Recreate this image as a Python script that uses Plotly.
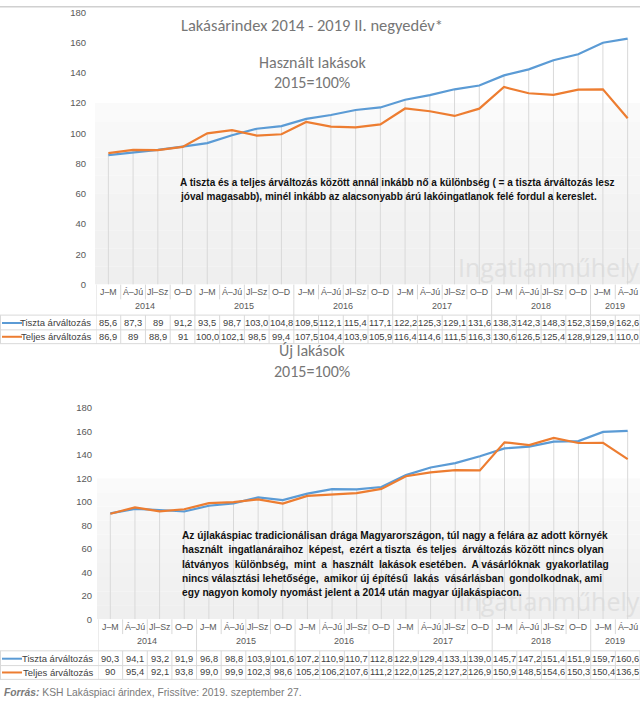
import plotly.graph_objects as go

# ---------------- data ----------------
quarters = ["J–M", "Á–Jú", "Jl–Sz", "O–D"] * 5 + ["J–M", "Á–Jú"]
years = ["2014", "2015", "2016", "2017", "2018", "2019"]
quarters_per_year = [4, 4, 4, 4, 4, 2]

series_names = ["Tiszta árváltozás", "Teljes árváltozás"]

used_tiszta = ["85,6", "87,3", "89", "91,2", "93,5", "98,7", "103,0", "104,8", "109,5", "112,1", "115,4",
               "117,1", "122,2", "125,3", "129,1", "131,6", "138,3", "142,3", "148,3", "152,3", "159,9", "162,6"]
used_teljes = ["86,9", "89", "88,9", "91", "100,0", "102,1", "98,5", "99,4", "107,5", "104,4", "103,9",
               "105,9", "116,4", "114,6", "111,5", "116,3", "130,6", "126,5", "125,4", "128,9", "129,1", "110,0"]
new_tiszta = ["90,3", "94,1", "93,2", "91,9", "96,8", "98,8", "103,9", "101,6", "107,2", "110,9", "110,7",
              "112,8", "122,9", "129,4", "133,1", "139,0", "145,7", "147,2", "151,4", "151,9", "159,7", "160,6"]
new_teljes = ["90", "95,4", "92,1", "93,8", "99,0", "99,9", "102,3", "98,6", "105,2", "106,2", "107,6",
              "111,2", "122,0", "125,2", "127,2", "126,9", "150,9", "148,5", "154,6", "150,3", "150,4", "136,5"]

y_ticks = [0, 20, 40, 60, 80, 100, 120, 140, 160, 180]

main_title = "Lakásárindex 2014 - 2019 II. negyedév*"
panel_titles = [["Használt lakások", "2015=100%"], ["Új lakások", "2015=100%"]]
notes = [
    ["A tiszta és a teljes árváltozás között annál inkább nő a különbség ( = a tiszta árváltozás lesz",
     "jóval magasabb), minél inkább az alacsonyabb árú lakóingatlanok felé fordul a kereslet."],
    ["Az újlakáspiac tradicionálisan drága Magyarországon, túl nagy a felára az adott környék",
     "használt  ingatlanáraihoz  képest,  ezért a tiszta  és teljes  árváltozás között nincs olyan",
     "látványos  különbség,  mint  a  használt  lakások esetében.  A vásárlóknak  gyakorlatilag",
     "nincs választási lehetősége,  amikor új építésű  lakás  vásárlásban  gondolkodnak, ami",
     "egy nagyon komoly nyomást jelent a 2014 után magyar újlakáspiacon."],
]
watermark = "Ingatlanműhely"
source_bold = "Forrás:"
source_rest = " KSH Lakáspiaci árindex, Frissítve: 2019. szeptember 27."

# ---------------- style ----------------
W, H = 640, 708
COLORS = ["#5B9BD5", "#ED7D31"]
GRID = "#d9d9d9"
TXT = "#595959"
SANS = "Liberation Sans, Arial, sans-serif"
TITLEF = "Carlito, Lato, Open Sans, sans-serif"


def px(x):
    return x / W


def py(y):
    return 1 - y / H


def num(lst):
    return [float(s.replace(",", ".")) for s in lst]


fig = go.Figure()
shapes = []
annotations = []


def ann(**kw):
    kw.setdefault("showarrow", False)
    kw.setdefault("yanchor", "middle")
    kw.setdefault("xanchor", "center")
    annotations.append(kw)


panels = [
    dict(xa="x", ya="y", left=96, zero=283, top=6.4, label_std=9,
         cat=290.5, year=305, r1=322, r2=336, tbl_top=314, tbl_mid=329, tbl_bot=343,
         title_y=[57, 78], note_x=178, note_y=[179, 193], wm_y=9, note_size=10,
         data=[used_tiszta, used_teljes]),
    dict(xa="x2", ya="y2", left=98, zero=623, top=408.5, label_std=5,
         cat=631, year=645, r1=663, r2=677, tbl_top=655, tbl_mid=670, tbl_bot=684,
         title_y=[350, 371], note_x=180, note_y=[538, 552.5, 567, 581.5, 596], wm_y=12, note_size=10.2,
         data=[new_tiszta, new_teljes]),
]

n = len(quarters)
xs = list(range(n))

# thin border at the very top of the picture
shapes.append(dict(type="line", xref="paper", yref="paper", x0=0, x1=1, y0=py(0.8), y1=py(0.8),
                   line=dict(color="#d0d0d0", width=1.5)))

for k, p in enumerate(panels):
    xa, ya = p["xa"], p["ya"]
    vals = [num(d) for d in p["data"]]

    # gradient-like background band (0..120)
    steps = 10
    for s in range(steps):
        lo = 120 * s / steps
        hi = 120 * (s + 1) / steps
        c = int(239 + (250 - 239) * (s / (steps - 1)))
        shapes.append(dict(type="rect", xref="paper", yref=ya, x0=px(p["left"] - 1), x1=1,
                           y0=lo, y1=hi, fillcolor=f"rgb({c},{c},{c})", line=dict(width=0),
                           layer="below"))

    # watermark (clipped by plot area)
    fig.add_trace(go.Scatter(x=[17.8], y=[p["wm_y"]], mode="text", text=[watermark],
                             textfont=dict(size=25, color="#e0e0e0", family="Open Sans, sans-serif"),
                             cliponaxis=True, hoverinfo="skip", showlegend=False,
                             xaxis=xa, yaxis=ya))

    # drop lines
    dx, dy = [], []
    for i in xs:
        dx += [i, i, None]
        dy += [0, max(vals[0][i], vals[1][i]), None]
    fig.add_trace(go.Scatter(x=dx, y=dy, mode="lines", line=dict(color=GRID, width=1),
                             hoverinfo="skip", showlegend=False, xaxis=xa, yaxis=ya))

    # series lines
    for j in range(2):
        fig.add_trace(go.Scatter(x=xs, y=vals[j], mode="lines", name=series_names[j],
                                 line=dict(color=COLORS[j], width=2.2), showlegend=False,
                                 xaxis=xa, yaxis=ya))

    # axes
    xkey = "xaxis" if xa == "x" else "xaxis2"
    ykey = "yaxis" if ya == "y" else "yaxis2"
    fig.layout[xkey] = dict(domain=[px(p["left"]), 1], range=[-0.5, n - 0.5], visible=False,
                            anchor=ya, fixedrange=True)
    fig.layout[ykey] = dict(domain=[py(p["zero"]), py(p["top"])], range=[0, 180], tickvals=y_ticks,
                            showgrid=False, zeroline=False, showline=False, ticks="",
                            ticklabelstandoff=p["label_std"], anchor=xa, fixedrange=True,
                            tickfont=dict(family=SANS, size=9.5, color=TXT))

    # ---- data table ----
    for i, q in enumerate(quarters):
        ann(xref=xa, yref="paper", x=i, y=py(p["cat"]), text=q,
            font=dict(family=SANS, size=8.8, color=TXT))
        shapes.append(dict(type="line", xref=xa, yref="paper", x0=i - 0.5, x1=i - 0.5,
                           y0=py(p["zero"]), y1=py(p["zero"] + 15), line=dict(color=GRID, width=1)))
    start = 0
    for yname, cnt in zip(years, quarters_per_year):
        ann(xref=xa, yref="paper", x=start + (cnt - 1) / 2, y=py(p["year"]), text=yname,
            font=dict(family=SANS, size=9, color=TXT))
        shapes.append(dict(type="line", xref=xa, yref="paper", x0=start - 0.5, x1=start - 0.5,
                           y0=py(p["zero"] + 15), y1=py(p["tbl_top"]), line=dict(color=GRID, width=1)))
        start += cnt
    for j, ry in enumerate([p["r1"], p["r2"]]):
        for i in xs:
            ann(xref=xa, yref="paper", x=i, y=py(ry), text=p["data"][j][i],
                font=dict(family=SANS, size=9.3, color="#404040"))
        ann(xref="paper", yref="paper", x=px(p["left"] - 3), y=py(ry), xanchor="right",
            text=series_names[j], font=dict(family=SANS, size=9.5, color="#404040"))
        shapes.append(dict(type="line", xref="paper", yref="paper", x0=px(2), x1=px(22),
                           y0=py(ry), y1=py(ry), line=dict(color=COLORS[j], width=2)))
    for i in range(n + 1):
        shapes.append(dict(type="line", xref=xa, yref="paper", x0=i - 0.5, x1=i - 0.5,
                           y0=py(p["tbl_top"]), y1=py(p["tbl_bot"]), line=dict(color=GRID, width=1)))
    shapes.append(dict(type="line", xref="paper", yref="paper", x0=px(0.5), x1=px(0.5),
                       y0=py(p["tbl_top"]), y1=py(p["tbl_bot"]), line=dict(color=GRID, width=1)))
    for hy in [p["tbl_top"], p["tbl_mid"], p["tbl_bot"]]:
        shapes.append(dict(type="line", xref="paper", yref="paper", x0=0, x1=1,
                           y0=py(hy), y1=py(hy), line=dict(color=GRID, width=1)))

    for t, ty in zip(panel_titles[k], p["title_y"]):
        ann(xref="paper", yref="paper", x=px(312), y=py(ty), text=t,
            font=dict(family=TITLEF, size=16, color="#767676"))
    for t, ty in zip(notes[k], p["note_y"]):
        ann(xref="paper", yref="paper", x=px(p["note_x"]), y=py(ty), xanchor="left",
            text="<b>" + t + "</b>", font=dict(family=SANS, size=p["note_size"], color="#111111"))

ann(xref="paper", yref="paper", x=px(312), y=py(19), text=main_title,
    font=dict(family=TITLEF, size=16.5, color="#767676"))
ann(xref="paper", yref="paper", x=px(2), y=py(697), xanchor="left",
    text="<b><i>" + source_bold + "</i></b>" + source_rest,
    font=dict(family=SANS, size=10.3, color="#7a7a7a"))

fig.update_layout(width=W, height=H, margin=dict(l=0, r=0, t=0, b=0),
                  paper_bgcolor="white", plot_bgcolor="rgba(0,0,0,0)",
                  shapes=shapes, annotations=annotations, showlegend=False)

page_js = (
    "var d=document.documentElement, b=document.body;"
    "d.style.margin='0'; d.style.padding='0'; d.style.overflow='hidden'; d.style.height='708px';"
    "b.style.margin='0'; b.style.padding='0'; b.style.overflow='hidden'; b.style.height='708px';"
)
fig.write_html("out.html", config={"displayModeBar": False}, post_script=page_js)
